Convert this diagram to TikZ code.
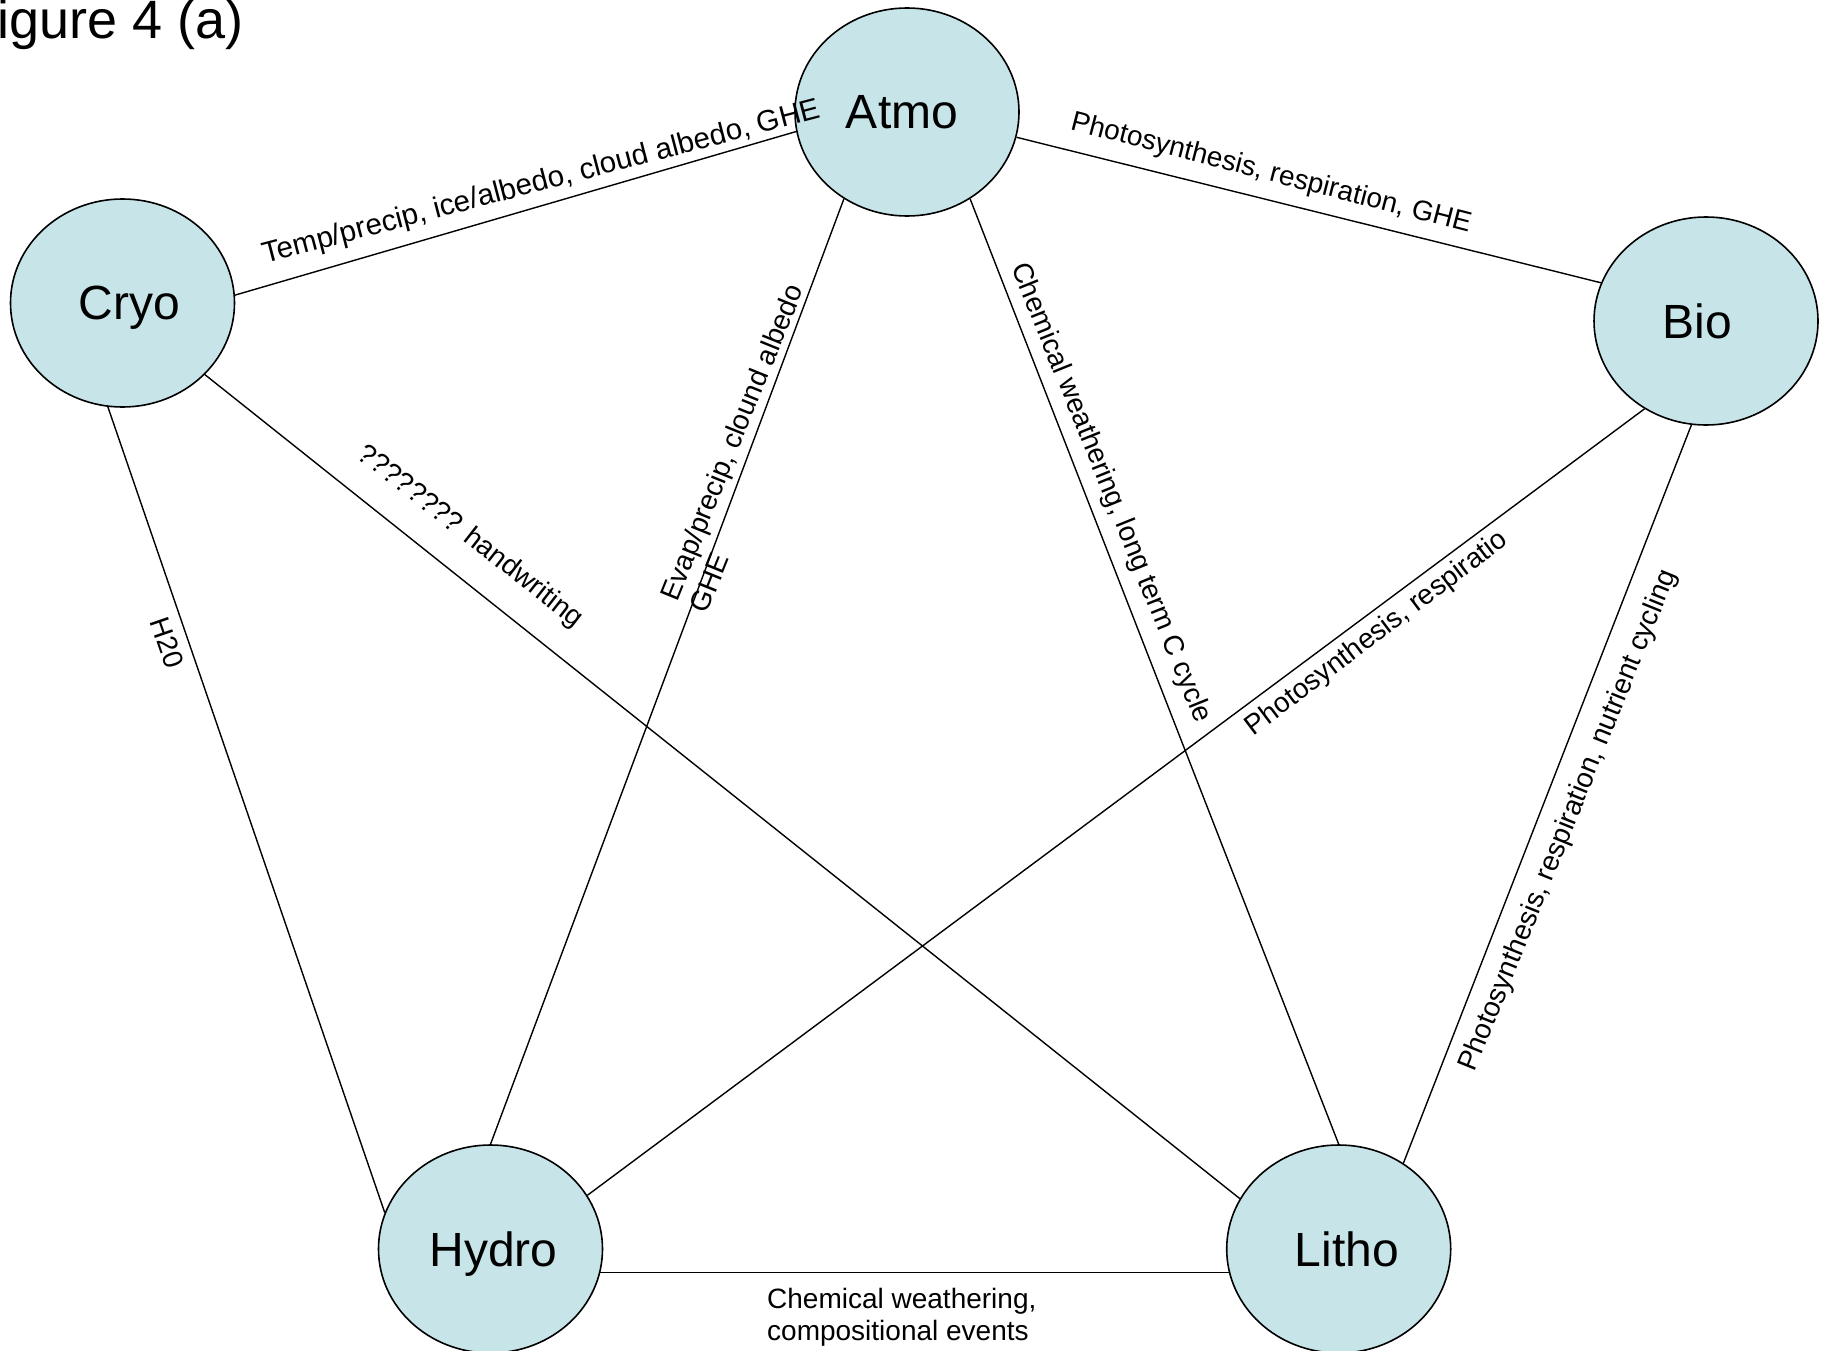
\documentclass[tikz,border=0pt]{standalone}
\usepackage{fontspec}
\setmainfont{Liberation Sans}
\usetikzlibrary{shapes.geometric}
\definecolor{spherefill}{RGB}{199,229,233}
\begin{document}
\begin{tikzpicture}[x=1pt,y=-1pt,
  sphere/.style={ellipse, draw=black, line width=1.6pt, fill=spherefill,
    minimum width=224pt, minimum height=208pt, inner sep=0pt,
    font=\fontsize{48}{56}\selectfont, text depth=0pt},
  link/.style={draw=black, line width=1.4pt},
  lbl/.style={inner sep=0pt, font=\fontsize{28}{32}\selectfont}]
\useasboundingbox (0,0) rectangle (1830,1351);
\fill[white] (0,0) rectangle (1830,1351);

% title
\node[anchor=base west, inner sep=0pt, font=\fontsize{54}{64}\selectfont] (title) at (-3,39) {igure 4 (a)};

% the five spheres (labels sit slightly off-centre)
\node[sphere] (atmo)  at (907,112)     {\hspace*{-10pt}Atmo};
\node[sphere] (cryo)  at (122.5,303)   {\hspace*{14pt}Cryo};
\node[sphere] (bio)   at (1706,321)    {Bio\hspace*{18pt}};
\node[sphere] (hydro) at (490.5,1249)  {\hspace*{6pt}Hydro};
\node[sphere] (litho) at (1338.7,1249) {\hspace*{16pt}Litho};

% interactions
\draw[link] (cryo.4)    -- (atmo.190);
\draw[link] (atmo.347)  -- (bio.160);
\draw[link] (atmo.234)  -- (hydro.90);
\draw[link] (atmo.306)  -- (litho.90);
\draw[link] (cryo.262)  -- (hydro.161);
\draw[link] (cryo.319)  -- (litho.153);
\draw[link] (bio.235)   -- (hydro.29);
\draw[link] (bio.262)   -- (litho.53);
\draw[link] (hydro.348) -- (litho.192);

% interaction labels
\node[lbl, rotate=14.7, font=\fontsize{29.5}{34}\selectfont] (l-ca) at (541.5,183) {Temp/precip, ice/albedo, cloud albedo, GHE};
\node[lbl, rotate=-14.5] (l-ab) at (1271,174) {Photosynthesis, respiration, GHE};
\node[lbl, rotate=68, align=left] (l-ah) at (746,448) {Evap/precip, clound albedo\\GHE};
\node[lbl, rotate=-68] (l-al) at (1110.5,493) {Chemical weathering, long term C cycle};
\node[lbl, rotate=-71] (l-ch) at (167,643) {H20};
\node[lbl, rotate=-38] (l-cl) at (470,537) {???????? handwriting};
\node[lbl, rotate=37]  (l-bh) at (1377,634) {Photosynthesis, respiratio};
\node[lbl, rotate=68]  (l-bl) at (1569,820.5) {Photosynthesis, respiration, nutrient cycling};
\node[lbl, anchor=north west, align=left] (l-hl) at (767,1288) {Chemical weathering,\\compositional events};
\end{tikzpicture}
\end{document}
